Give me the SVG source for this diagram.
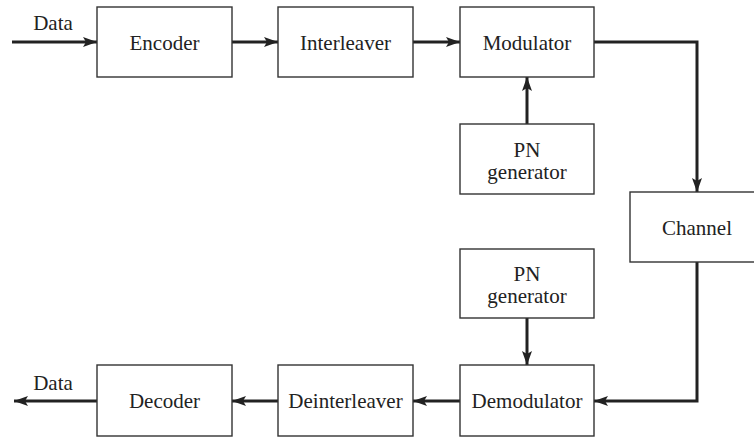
<svg xmlns="http://www.w3.org/2000/svg" width="754" height="438" viewBox="0 0 754 438">
<defs>
<style>
.box{fill:#fff;stroke:#333;stroke-width:1.4}
.t{font-family:"Liberation Serif","Times New Roman",serif;font-size:21px;fill:#222;text-anchor:middle}
.c{fill:none;stroke:#222;stroke-width:3}
</style>
<marker id="ah" viewBox="0 0 14 10" refX="14" refY="5" markerWidth="14" markerHeight="10" markerUnits="userSpaceOnUse" orient="auto">
<path d="M0,0 L14,5 L0,10 L3,5 Z" fill="#222"/>
</marker>
</defs>
<rect width="754" height="438" fill="#fff"/>
<g id="connectors">
<path class="c" d="M12,42 H97" marker-end="url(#ah)"/>
<path class="c" d="M232,42 H278" marker-end="url(#ah)"/>
<path class="c" d="M413,42 H460" marker-end="url(#ah)"/>
<path class="c" d="M594,42 H697 V192" marker-end="url(#ah)"/>
<path class="c" d="M527,124 V77" marker-end="url(#ah)"/>
<path class="c" d="M697,262 V401 H594" marker-end="url(#ah)"/>
<path class="c" d="M527,318 V365" marker-end="url(#ah)"/>
<path class="c" d="M460,401 H413" marker-end="url(#ah)"/>
<path class="c" d="M278,401 H232" marker-end="url(#ah)"/>
<path class="c" d="M97,401 H14" marker-end="url(#ah)"/>
</g>
<text class="t" x="53" y="30">Data</text>
<text class="t" x="53" y="390">Data</text>
<g id="encoder"><rect class="box" x="97" y="7" width="135" height="70"/><text class="t" x="164.5" y="50">Encoder</text></g>
<g id="interleaver"><rect class="box" x="278" y="7" width="135" height="70"/><text class="t" x="345.5" y="50">Interleaver</text></g>
<g id="modulator"><rect class="box" x="460" y="7" width="134" height="70"/><text class="t" x="527" y="50">Modulator</text></g>
<g id="pn1"><rect class="box" x="460" y="124" width="134" height="70"/><text class="t" x="527" y="157">PN</text><text class="t" x="527" y="179">generator</text></g>
<g id="channel"><rect class="box" x="630" y="192" width="130" height="70"/><text class="t" x="697" y="235">Channel</text></g>
<g id="pn2"><rect class="box" x="460" y="249" width="134" height="69"/><text class="t" x="527" y="281">PN</text><text class="t" x="527" y="303">generator</text></g>
<g id="demodulator"><rect class="box" x="460" y="365" width="134" height="71"/><text class="t" x="527" y="408">Demodulator</text></g>
<g id="deinterleaver"><rect class="box" x="278" y="365" width="135" height="71"/><text class="t" x="345.5" y="408">Deinterleaver</text></g>
<g id="decoder"><rect class="box" x="97" y="365" width="135" height="71"/><text class="t" x="164.5" y="408">Decoder</text></g>
</svg>
